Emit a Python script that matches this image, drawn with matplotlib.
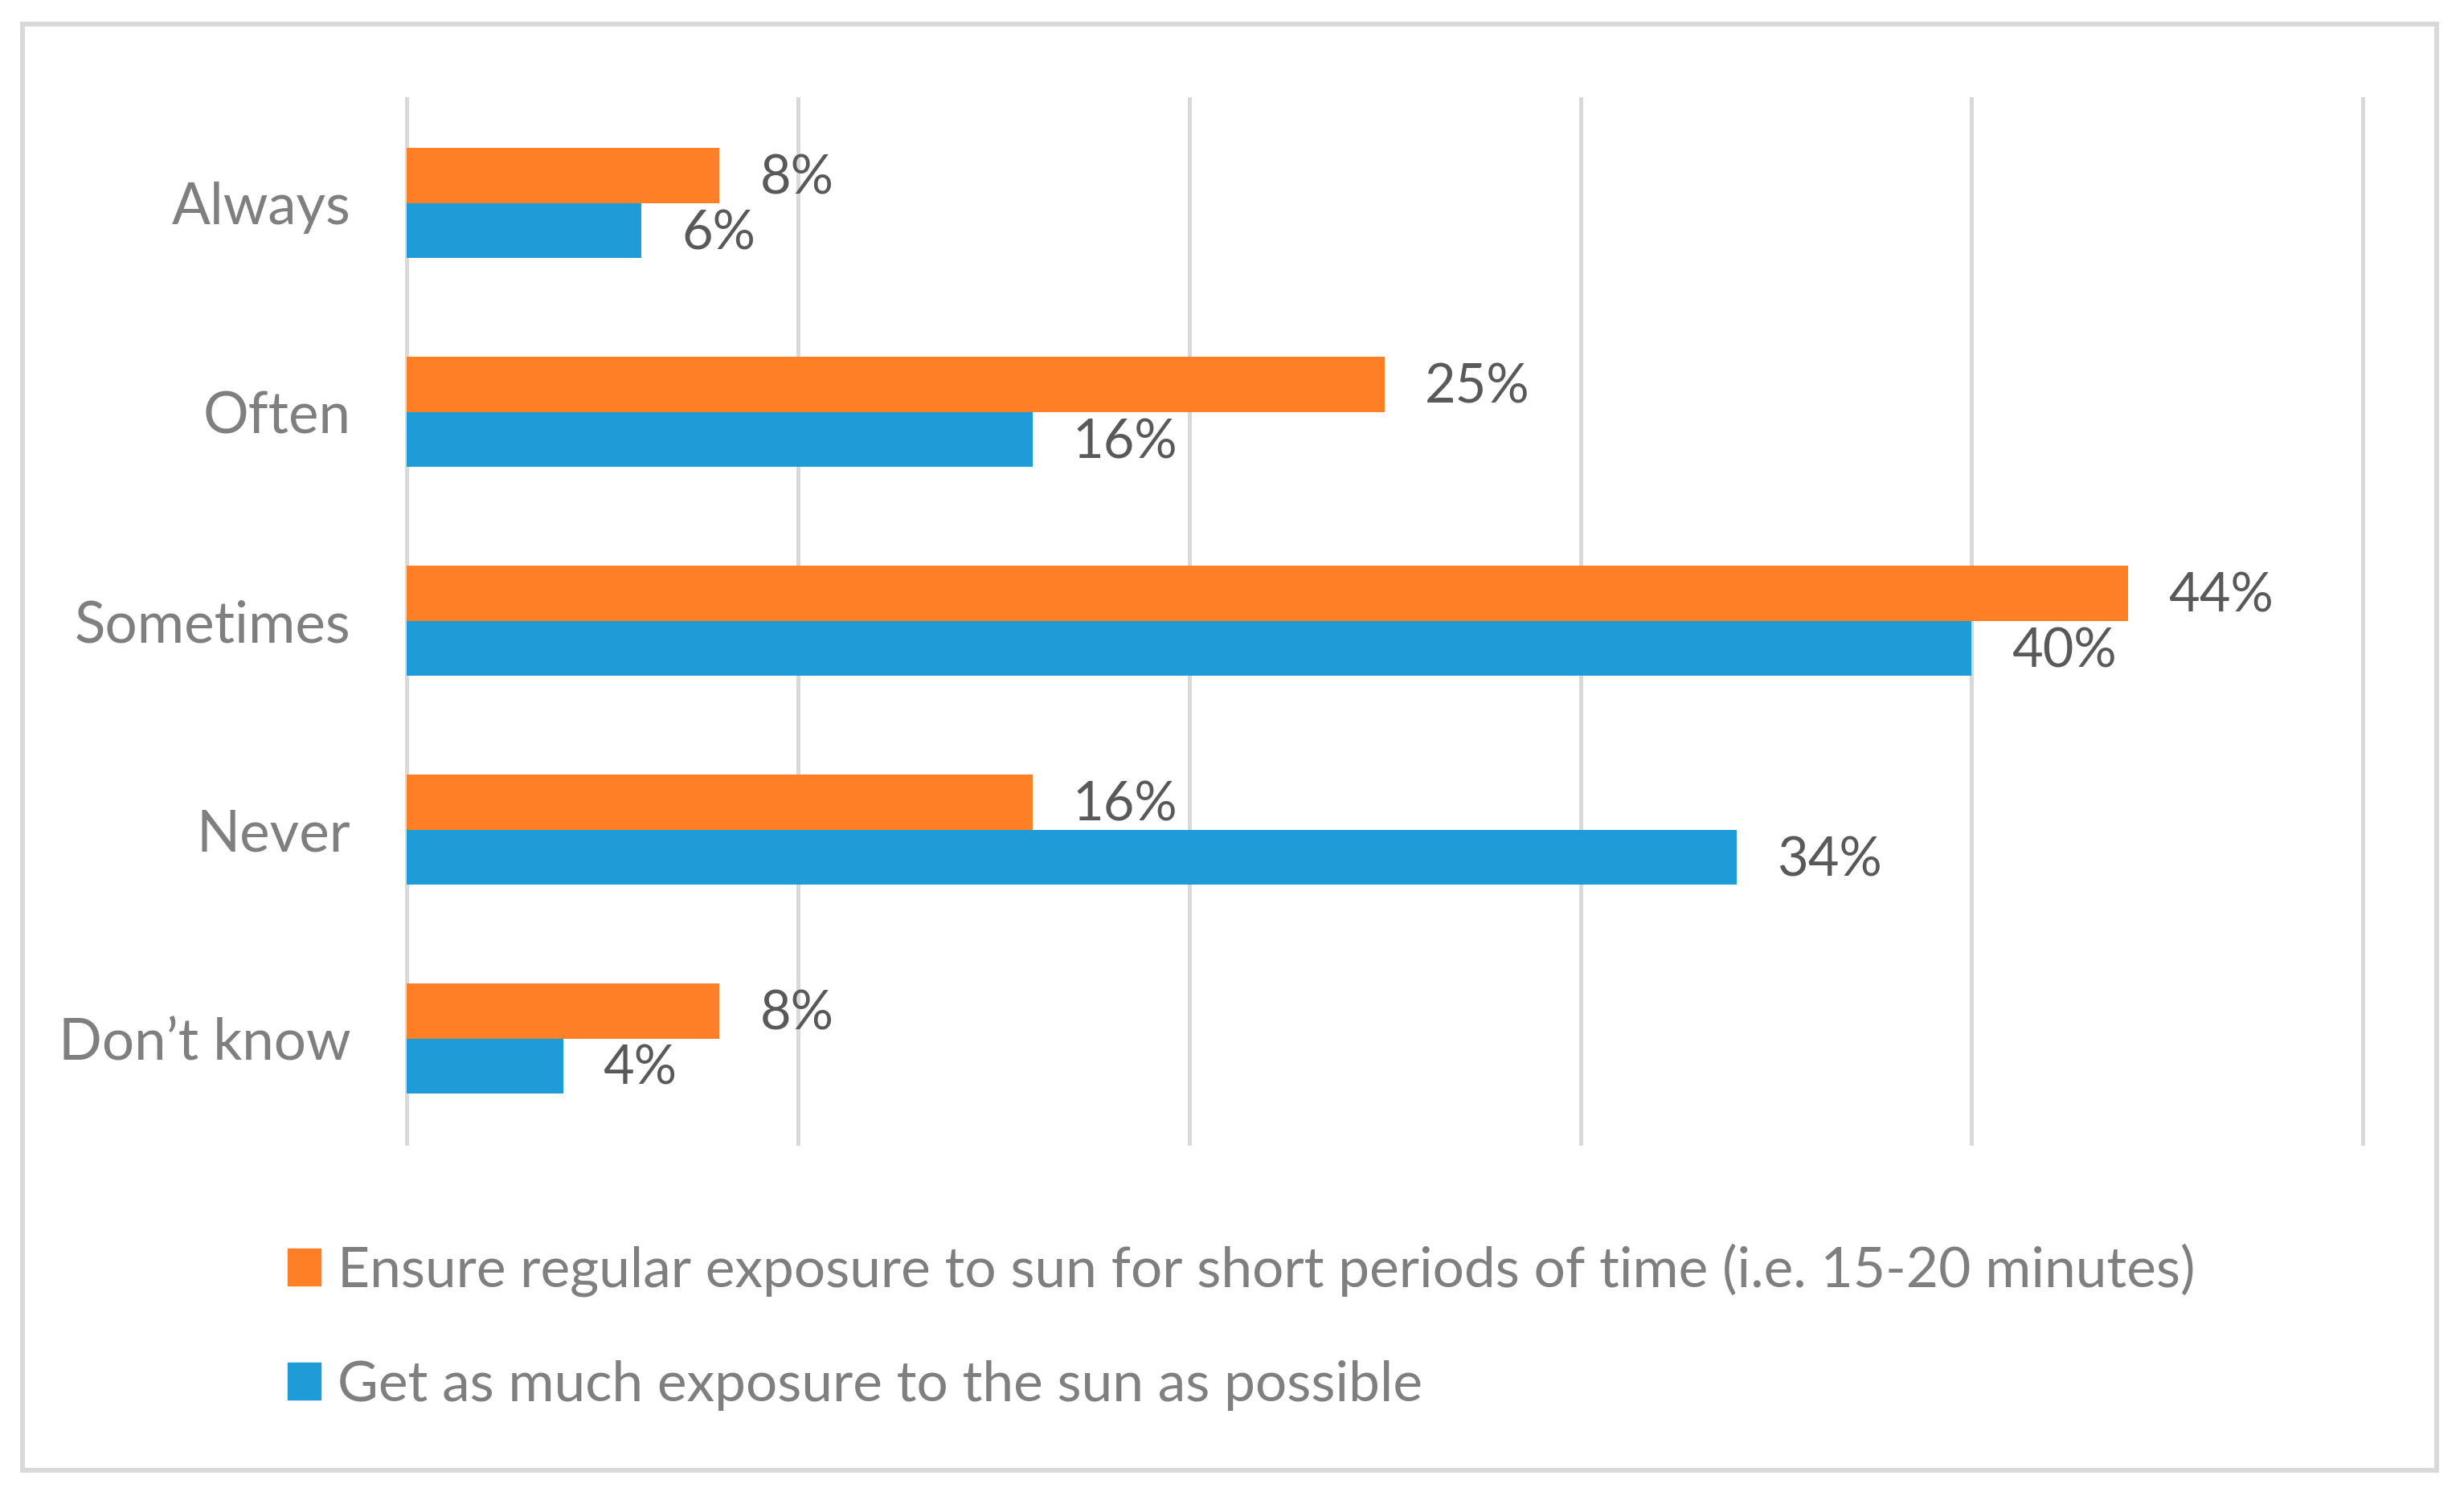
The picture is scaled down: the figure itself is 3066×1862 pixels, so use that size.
import matplotlib.pyplot as plt
import numpy as np
from matplotlib.patches import Rectangle, Patch

categories = ['Always', 'Often', 'Sometimes', 'Never', 'Don\u2019t know']
regular = [8, 25, 44, 16, 8]   # orange
as_much = [6, 16, 40, 34, 4]   # blue
series_names = ['Ensure regular exposure to sun for short periods of time (i.e. 15-20 minutes)',
                'Get as much exposure to the sun as possible']

orange = '#FF7F27'
blue = '#1E9CD8'
grid_c = '#D9D9D9'

plt.rcParams['font.family'] = ['Lato', 'DejaVu Sans']

fig = plt.figure(figsize=(30.66, 18.62), dpi=100)
ax = fig.add_axes([0.165, 0.236, 0.794, 0.698])

y = np.arange(len(categories))
h = 0.263
b1 = ax.barh(y - h / 2, regular, height=h, color=orange, zorder=3)
b2 = ax.barh(y + h / 2, as_much, height=h, color=blue, zorder=3)

for bars, vals in ((b1, regular), (b2, as_much)):
    for bar, v in zip(bars, vals):
        ax.annotate(f'{v}%', (bar.get_width(), bar.get_y() + bar.get_height() / 2),
                    xytext=(36, -3), textcoords='offset points',
                    ha='left', va='center', fontsize=48, color='#595959')

ax.set_xlim(0, 50)
ax.set_ylim(len(categories) - 0.5, -0.5)
ax.set_xticks(range(0, 51, 10))
ax.set_xticklabels([])
ax.set_yticks(y)
ax.set_yticklabels(categories, fontsize=51, color='#7F7F7F')
ax.tick_params(axis='both', length=0)
ax.tick_params(axis='y', pad=50)
ax.grid(axis='x', color=grid_c, linewidth=3.6, zorder=0)
for gl in ax.get_xgridlines():
    gl.set_clip_on(False)
for s in ax.spines.values():
    s.set_visible(False)

handles = [Patch(color=orange), Patch(color=blue)]
fig.legend(handles, series_names, loc='upper left', bbox_to_anchor=(0.1167, 0.169),
           frameon=False, fontsize=50, labelcolor='#7F7F7F', borderpad=0, borderaxespad=0,
           handlelength=0.6, handleheight=0.65, handletextpad=0.3, labelspacing=1.13)

# outer chart border
fig.patches.append(Rectangle((0.009, 0.017), 0.980, 0.967, transform=fig.transFigure,
                             fill=False, edgecolor=grid_c, linewidth=4.3))

fig.savefig('out.png', dpi=100)
